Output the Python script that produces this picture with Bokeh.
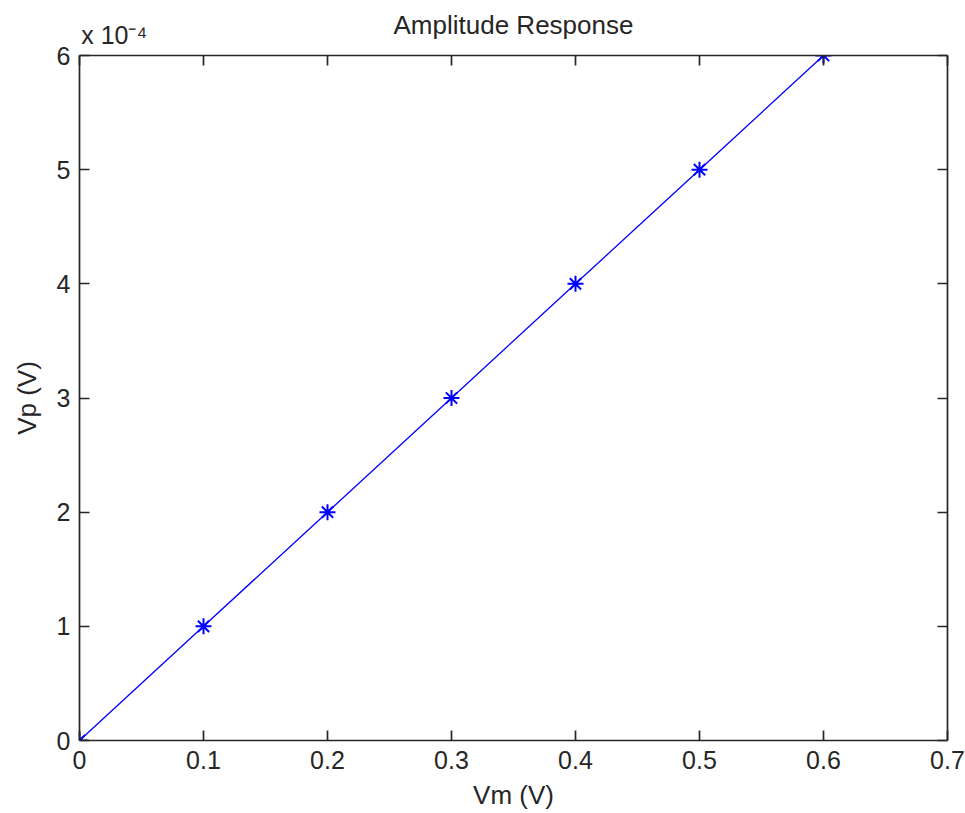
from bokeh.plotting import figure
from bokeh.models import (LinearAxis, FixedTicker, CustomJSTickFormatter, Range1d)
from bokeh.embed import file_html
from bokeh.resources import INLINE

vm = [0.0, 0.1, 0.2, 0.3, 0.4, 0.5, 0.6]
vp = [0.0, 1e-4, 2e-4, 3e-4, 4e-4, 5e-4, 6e-4]
x_ticks = [0.0, 0.1, 0.2, 0.3, 0.4, 0.5, 0.6, 0.7]
y_ticks = [0.0, 1e-4, 2e-4, 3e-4, 4e-4, 5e-4, 6e-4]
title_text = "Amplitude Response"
x_label = "Vm (V)"
y_label = "Vp (V)"
y_multiplier = "x 10\u207b\u2074"

FONT = "Liberation Sans"
FS = "25px"
FS2 = "26px"
AX = "#262626"

p = figure(width=965, height=813, output_backend="svg", toolbar_location=None,
           x_range=Range1d(0, 0.7), y_range=Range1d(0, 6e-4),
           min_border_left=79, min_border_right=18, min_border_top=55, min_border_bottom=73,
           x_axis_label=x_label, y_axis_label=y_label)
p.background_fill_color = "white"
p.border_fill_color = "white"
p.outline_line_color = None
p.grid.visible = False

yfmt = CustomJSTickFormatter(code="return (tick*1e4).toFixed(0);")

def style(ax, labels=True):
    ax.axis_line_color = AX
    ax.axis_line_width = 1.7
    ax.major_tick_line_color = AX
    ax.major_tick_line_width = 1.7
    ax.major_tick_in = 10
    ax.major_tick_out = 0
    ax.minor_tick_line_color = None
    ax.major_label_text_font = FONT
    ax.major_label_text_font_size = FS if labels else "0px"
    ax.major_label_text_color = AX
    ax.axis_label_text_font = FONT
    ax.axis_label_text_font_size = FS2
    ax.axis_label_text_font_style = "normal"
    ax.axis_label_text_color = AX

xa = p.xaxis[0]
ya = p.yaxis[0]
xa.ticker = FixedTicker(ticks=x_ticks)
ya.ticker = FixedTicker(ticks=y_ticks)
ya.formatter = yfmt
style(xa)
style(ya)
xa.major_label_standoff = 10
xa.axis_label_standoff = 8
ya.major_label_standoff = 9
ya.axis_label_standoff = 12

# top axis: tick marks, the y multiplier (as the label of its first tick) and the title
pad = "\u00a0" * 10
top_fmt = CustomJSTickFormatter(args=dict(mult=y_multiplier, pad=pad),
                                code="return tick == 0 ? pad + mult : '';")
top = LinearAxis(ticker=FixedTicker(ticks=x_ticks), formatter=top_fmt, axis_label=title_text)
style(top)
top.major_label_standoff = 7
top.axis_label_standoff = -22
p.add_layout(top, "above")

right = LinearAxis(ticker=FixedTicker(ticks=y_ticks))
style(right, labels=False)
right.major_label_standoff = 0
right.major_label_text_color = None
p.add_layout(right, "right")

p.line(vm, vp, line_color="#0000ff", line_width=1.3)
p.scatter(vm, vp, marker="asterisk", size=16, line_color="#0000ff", line_width=2)

open("out.html", "w").write(file_html(p, INLINE))
